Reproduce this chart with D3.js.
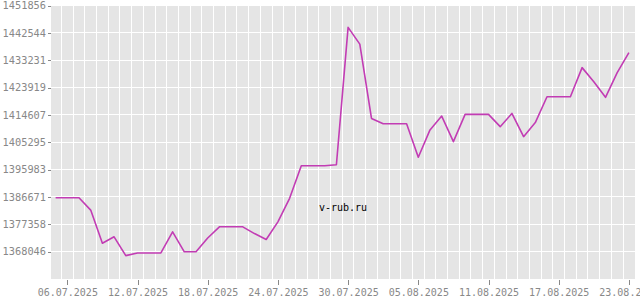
<!DOCTYPE html>
<html>
<head>
<meta charset="utf-8">
<script src="https://cdn.jsdelivr.net/npm/d3@7/dist/d3.min.js"></script>
<style>
  html, body { margin: 0; padding: 0; background: #ffffff; }
  svg { display: block; }
  text { font-family: "DejaVu Sans Mono", "Liberation Mono", monospace; }
</style>
</head>
<body>
<svg id="chart" width="640" height="300"></svg>
<script>
// ---- data ----
const dates = [
  "05.07.2025","06.07.2025","07.07.2025","08.07.2025","09.07.2025","10.07.2025","11.07.2025",
  "12.07.2025","13.07.2025","14.07.2025","15.07.2025","16.07.2025","17.07.2025","18.07.2025",
  "19.07.2025","20.07.2025","21.07.2025","22.07.2025","23.07.2025","24.07.2025","25.07.2025",
  "26.07.2025","27.07.2025","28.07.2025","29.07.2025","30.07.2025","31.07.2025","01.08.2025",
  "02.08.2025","03.08.2025","04.08.2025","05.08.2025","06.08.2025","07.08.2025","08.08.2025",
  "09.08.2025","10.08.2025","11.08.2025","12.08.2025","13.08.2025","14.08.2025","15.08.2025",
  "16.08.2025","17.08.2025","18.08.2025","19.08.2025","20.08.2025","21.08.2025","22.08.2025",
  "23.08.2025"
];
const values = [
  1386400, 1386400, 1386400, 1382200, 1370900, 1373100, 1366700,
  1367600, 1367600, 1367600, 1374800, 1368000, 1368000, 1372700,
  1376500, 1376500, 1376500, 1374200, 1372200, 1378200, 1386200,
  1397300, 1397300, 1397300, 1397650, 1444400, 1438700, 1413400,
  1411600, 1411600, 1411600, 1400200, 1409500, 1414200, 1405500,
  1414800, 1414800, 1414800, 1410600, 1415100, 1407200, 1412000,
  1420800, 1420800, 1420800, 1430700, 1425900, 1420600, 1429000,
  1435800
];
const yTicks = [1451856, 1442544, 1433231, 1423919, 1414607, 1405295, 1395983, 1386671, 1377358, 1368046];
const yMin = 1358734, yMax = 1451856;
const xTickLabels = ["06.07.2025","12.07.2025","18.07.2025","24.07.2025","30.07.2025","05.08.2025","11.08.2025","17.08.2025","23.08.2025"];
const watermark = "v-rub.ru";

// ---- layout ----
const svg = d3.select("#chart");
const parse = d3.timeParse("%d.%m.%Y");
const data = dates.map((d, i) => ({ date: parse(d), value: values[i] }));
const DAY = 864e5;

const plotL = 51, plotR = 635, plotT = 5.5, plotB = 279;
const first = data[0].date, last = data[data.length - 1].date;

const x = d3.scaleTime()
  .domain([first, last])
  .range([55.6, 628.9]);
const y = d3.scaleLinear().domain([yMin, yMax]).range([plotB, plotT]);

// background
svg.append("rect")
  .attr("x", plotL).attr("y", plotT)
  .attr("width", plotR - plotL).attr("height", plotB - plotT)
  .attr("fill", "#e5e5e5");

// vertical grid lines at day boundaries
const grid = svg.append("g").attr("stroke", "#ffffff").attr("stroke-width", 1).attr("shape-rendering", "crispEdges");
for (let i = 0; i < data.length; i++) {
  const gx = x(new Date(+data[i].date + DAY / 2));
  if (gx > plotL + 1 && gx < plotR - 1) {
    grid.append("line").attr("x1", gx).attr("x2", gx).attr("y1", plotT).attr("y2", plotB);
  }
}
// horizontal grid lines
yTicks.forEach(v => {
  grid.append("line").attr("x1", plotL).attr("x2", plotR).attr("y1", y(v)).attr("y2", y(v));
});

// y axis
const yAxis = d3.axisLeft(y).tickValues(yTicks).tickSize(3).tickPadding(2).tickFormat(d => String(d));
const gy = svg.append("g").attr("transform", `translate(${plotL},0)`).call(yAxis);
gy.select(".domain").remove();
gy.selectAll("line").attr("stroke", "#888888").attr("shape-rendering", "crispEdges");
gy.selectAll("text").attr("fill", "#888888").attr("font-size", "10.3px")
  .attr("font-family", "'DejaVu Sans Mono', monospace");

// x axis
const xTickDates = xTickLabels.map(parse);
const xAxis = d3.axisBottom(x).tickValues(xTickDates).tickSize(5).tickPadding(4)
  .tickFormat(d3.timeFormat("%d.%m.%Y"));
const gx = svg.append("g").attr("transform", `translate(0,${plotB + 1})`).call(xAxis);
gx.select(".domain").remove();
gx.selectAll("line").attr("stroke", "#888888").attr("shape-rendering", "crispEdges");
gx.selectAll("text").attr("fill", "#888888").attr("font-size", "10px")
  .attr("font-family", "'DejaVu Sans Mono', monospace");

// line
const line = d3.line().x(d => x(d.date)).y(d => y(d.value));
svg.append("path")
  .datum(data)
  .attr("d", line)
  .attr("fill", "none")
  .attr("stroke", "#c23cb4")
  .attr("stroke-width", 1.6)
  .attr("stroke-linejoin", "round");

// watermark
svg.append("text")
  .attr("x", 343).attr("y", 211)
  .attr("text-anchor", "middle")
  .attr("font-size", "10px")
  .attr("fill", "#000000")
  .attr("font-family", "'DejaVu Sans Mono', monospace")
  .text(watermark);
</script>
</body>
</html>
